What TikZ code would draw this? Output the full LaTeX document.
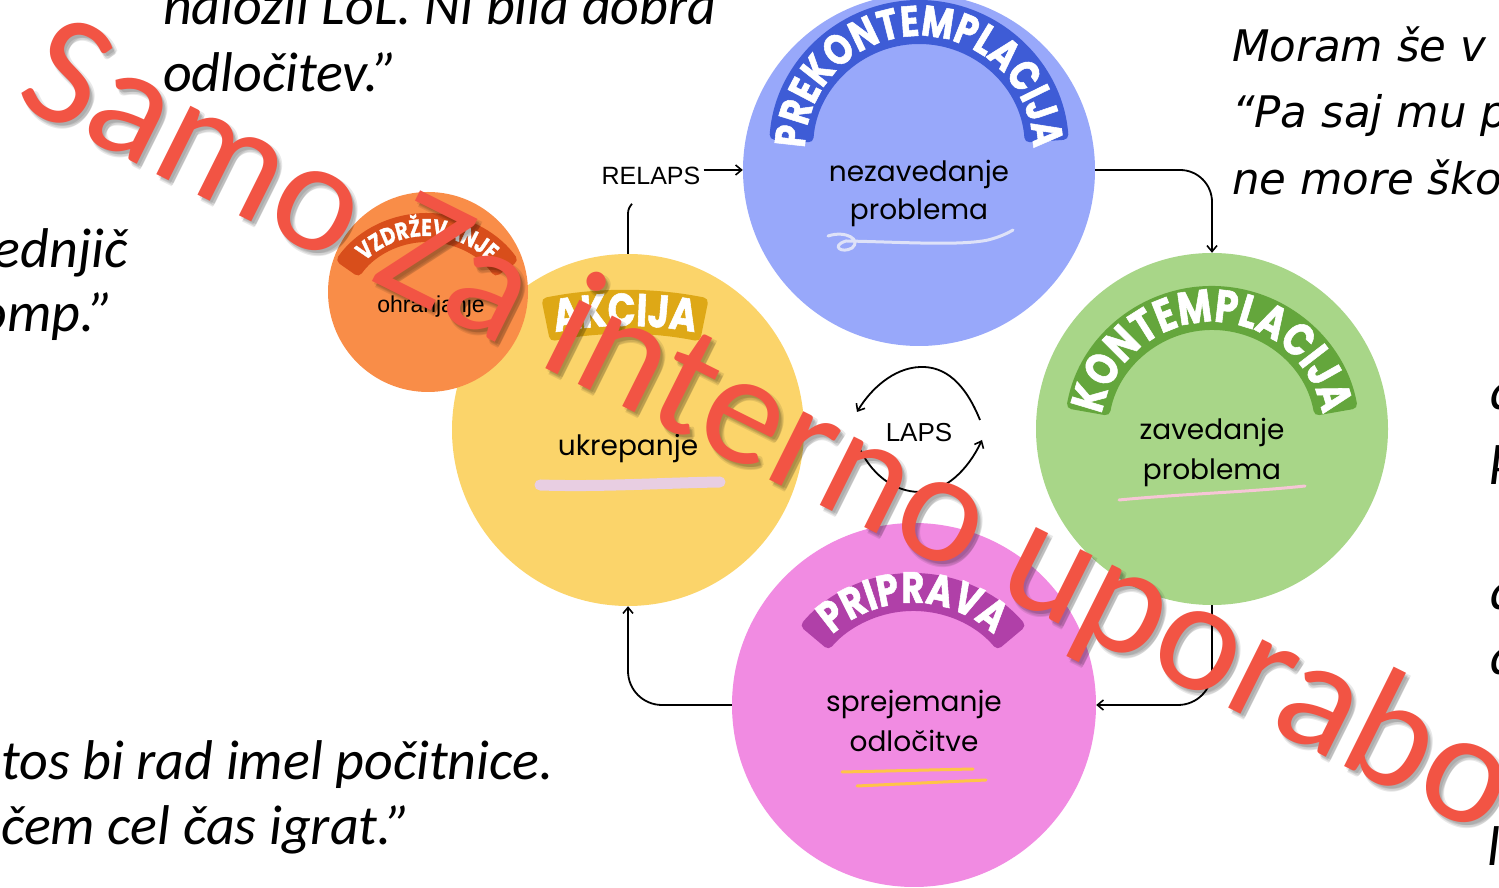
\documentclass[tikz,border=0pt]{standalone}
\usepackage{fontspec}
\usetikzlibrary{calc,decorations.text,arrows.meta}
\setmainfont{Carlito}
\newfontfamily\quotefont{Carlito}
\newfontfamily\wideit{DejaVu Sans}
\newfontfamily\geofont{Poppins}
\newfontfamily\bandfont{Poppins}[FakeStretch=0.8, BoldFeatures={FakeBold=1.2}]
\newfontfamily\plainsans{Liberation Sans}

\definecolor{cBlue}{RGB}{152,168,250}
\definecolor{cBlueD}{RGB}{62,92,214}
\definecolor{cGreen}{RGB}{168,214,136}
\definecolor{cGreenD}{RGB}{100,166,60}
\definecolor{cPink}{RGB}{241,139,226}
\definecolor{cPinkD}{RGB}{176,64,168}
\definecolor{cYellow}{RGB}{251,212,106}
\definecolor{cYellowD}{RGB}{222,168,22}
\definecolor{cOrange}{RGB}{249,141,72}
\definecolor{cOrangeD}{RGB}{216,78,27}
\definecolor{wmred}{RGB}{242,84,68}
\definecolor{swirl}{RGB}{222,226,248}
\definecolor{hlpink}{RGB}{246,198,214}
\definecolor{hllav}{RGB}{232,206,226}
\definecolor{hlyellow}{RGB}{255,196,72}

% annular band: centre, outer radius, inner radius, start angle, end angle, colour
\newcommand\stageband[6]{%
  \fill[#6, rounded corners=5pt] ($(#1)+(#4:#2)$) arc[start angle=#4, end angle=#5, radius=#2]
    -- ($(#1)+(#5:#3)$) arc[start angle=#5, end angle=#4, radius=#3] -- cycle;}
% white title set along an arc: centre, radius, font size, text
\newcommand\bandtitle[4]{%
  \path[decorate, decoration={text along path, text align=center, text color=white,
      text={|\bandfont\bfseries\fontsize{#3}{#3}\selectfont|#4}}]
    ($(#1)+(200:#2)$) arc[start angle=200, end angle=-20, radius=#2];}

\begin{document}
\begin{tikzpicture}[x=1pt, y=1pt,
  stage/.style={circle, inner sep=0pt, draw=none},
  body/.style={font=\geofont\fontsize{28}{28}\selectfont, inner sep=0pt, anchor=base},
  quote/.style={font=\quotefont\itshape\fontsize{56}{56}\selectfont, inner sep=0pt},
  quoteB/.style={font=\wideit\itshape\fontsize{43.5}{43.5}\selectfont, inner sep=0pt, anchor=base west},
  lbl/.style={font=\plainsans\fontsize{24}{24}\selectfont, inner sep=0pt},
  flow/.style={line width=1.8pt, black, -{Straight Barb[length=6pt, width=10pt, line width=1.6pt]}},
  plain/.style={line width=1.8pt, black},
  wm/.style={font=\quotefont\fontsize{160}{160}\selectfont, rotate=-26.5, anchor=base west, inner sep=0pt}]

\useasboundingbox (0,0) rectangle (1499,888);
\fill[white] (0,0) rectangle (1499,888);

% ---- quotations around the cycle ----
\node[quote, anchor=base west] (q1a) at (163,863) {naložil LoL. Ni bila dobra};
\node[quote, anchor=base west] (q1b) at (163,796) {odločitev.”};
\node[quote, anchor=base east] (q2a) at (128,620) {ednjič};
\node[quote, anchor=base east] (q2b) at (114,556) {omp.”};
\node[quote, anchor=base west] (q3a) at (1,108) {tos bi rad imel počitnice.};
\node[quote, anchor=base west] (q3b) at (1,43) {čem cel čas igrat.”};
\node[quoteB] (q4a) at (1232,826) {Moram še v};
\node[quoteB] (q4b) at (1232,760) {“Pa saj mu p};
\node[quoteB] (q4c) at (1232,693) {ne more ško};
\node[quote, anchor=base west] (r1) at (1492,543) {“};
\node[quote, anchor=base west] (r2) at (1490,478) {a};
\node[quote, anchor=base west] (r3) at (1489,403) {k};
\node[quote, anchor=base west] (r4) at (1492,343) {“};
\node[quote, anchor=base west] (r5) at (1490,278) {a};
\node[quote, anchor=base west] (r6) at (1490,213) {a};
\node[quote, anchor=base west] (r7) at (1492,118) {“};
\node[quote, anchor=base west] (r8) at (1488,95) {p};
\node[quote, anchor=base west] (r9) at (1487,22) {l};

% ---- stages ----
\node[stage, fill=cYellow, minimum size=352pt] (akc) at (628,458) {};
\node[stage, fill=cOrange, minimum size=200pt] (vzd) at (428,596) {};
\node[stage, fill=cBlue, minimum size=352pt] (pre) at (919,718) {};
\node[stage, fill=cGreen, minimum size=352pt] (kon) at (1212,459) {};
\node[stage, fill=cPink, minimum size=364pt] (pri) at (914,183) {};

% title bands
\coordinate (bPre) at (919,738);
\coordinate (bKon) at (1212,454);
\coordinate (bPri) at (913,167);
\coordinate (bAkc) at (625,178);
\coordinate (bVzd) at (427,563);
\stageband{bPre}{150}{106}{176}{4}{cBlueD}
\stageband{bKon}{148}{104}{170}{10}{cGreenD}
\stageband{bPri}{148}{110}{140}{40}{cPinkD}
\stageband{bAkc}{420}{376}{101.5}{78.5}{cYellowD}
\stageband{bVzd}{112}{83}{145}{35}{cOrangeD}
\bandtitle{bPre}{114}{43}{PREKONTEMPLACIJA}
\bandtitle{bKon}{112}{46}{KONTEMPLACIJA}
\bandtitle{bPri}{118}{44}{PRIPRAVA}
\bandtitle{bAkc}{384}{46}{AKCIJA}
\bandtitle{bVzd}{89}{24}{VZDRŽEVANJE}

% hand-drawn accents
\draw[swirl, line width=3pt, line cap=round, line join=round]
  (828,652) .. controls (846,658) and (862,648) .. (852,640)
  .. controls (842,634) and (830,642) .. (846,647)
  .. controls (900,646) and (960,642) .. (988,648)
  .. controls (1000,651) and (1008,655) .. (1013,658);
\draw[hlpink, line width=3pt, line cap=round]
  (1119,388) .. controls (1180,394) and (1250,396) .. (1305,402);
\draw[hllav, line width=11pt, line cap=round]
  (540,403) .. controls (600,401) and (660,405) .. (720,406);
\draw[hlyellow, line width=3pt, line cap=round] (842,116) -- (973,119);
\draw[hlyellow, line width=3pt, line cap=round] (857,102) -- (986,108);

% stage texts
\node[body] (t1) at (919,706) {nezavedanje};
\node[body] (t2) at (919,668) {problema};
\node[body] (t3) at (1212,448) {zavedanje};
\node[body] (t4) at (1212,408) {problema};
\node[body] (t5) at (628,432) {ukrepanje};
\node[body] (t6) at (914,176) {sprejemanje};
\node[body] (t7) at (914,136) {odločitve};
\node[lbl, anchor=base, font=\plainsans\fontsize{23}{23}\selectfont] (t8) at (431,575) {ohranjanje};

% ---- transitions ----
\node[lbl, anchor=base, font=\plainsans\fontsize{25}{25}\selectfont] (relaps) at (651,703) {RELAPS};
\draw[plain] (akc.north) -- ++(0,40) to[out=90, in=230] ++(4,10);
\draw[flow] (relaps.east |- pre.west) ++(3,0) -- (pre.west);
\draw[flow, rounded corners=32pt] (pre.east) -| (kon.north);
\draw[flow, rounded corners=34pt] (kon.south) |- (pri.east);
\draw[flow, rounded corners=34pt] (pri.west) -| (akc.south);

\node[lbl, anchor=base, font=\plainsans\fontsize{26}{26}\selectfont] (laps) at (919,446) {LAPS};
\coordinate (lu1) at (980,468);
\coordinate (lu2) at (857,476);
\coordinate (ll1) at (858,443);
\coordinate (ll2) at (982,448);
\draw[flow] (lu1) .. controls (965,505) and (945,522) .. (920,521)
  .. controls (893,520) and (870,498) .. (lu2);
\draw[flow] (ll1) .. controls (870,415) and (893,396) .. (920,396)
  .. controls (945,396) and (968,418) .. (ll2);

% ---- watermark ----
\foreach \dx/\dy in {2/-3, 4/-5, 3/-6, 5/-3} {
  \node[wm, text=black, opacity=0.09] at (12+\dx,786+\dy) {Samo Za interno uporabo};
}
\node[wm, text=wmred] (mark) at (12,786) {Samo Za interno uporabo};
\end{tikzpicture}
\end{document}
